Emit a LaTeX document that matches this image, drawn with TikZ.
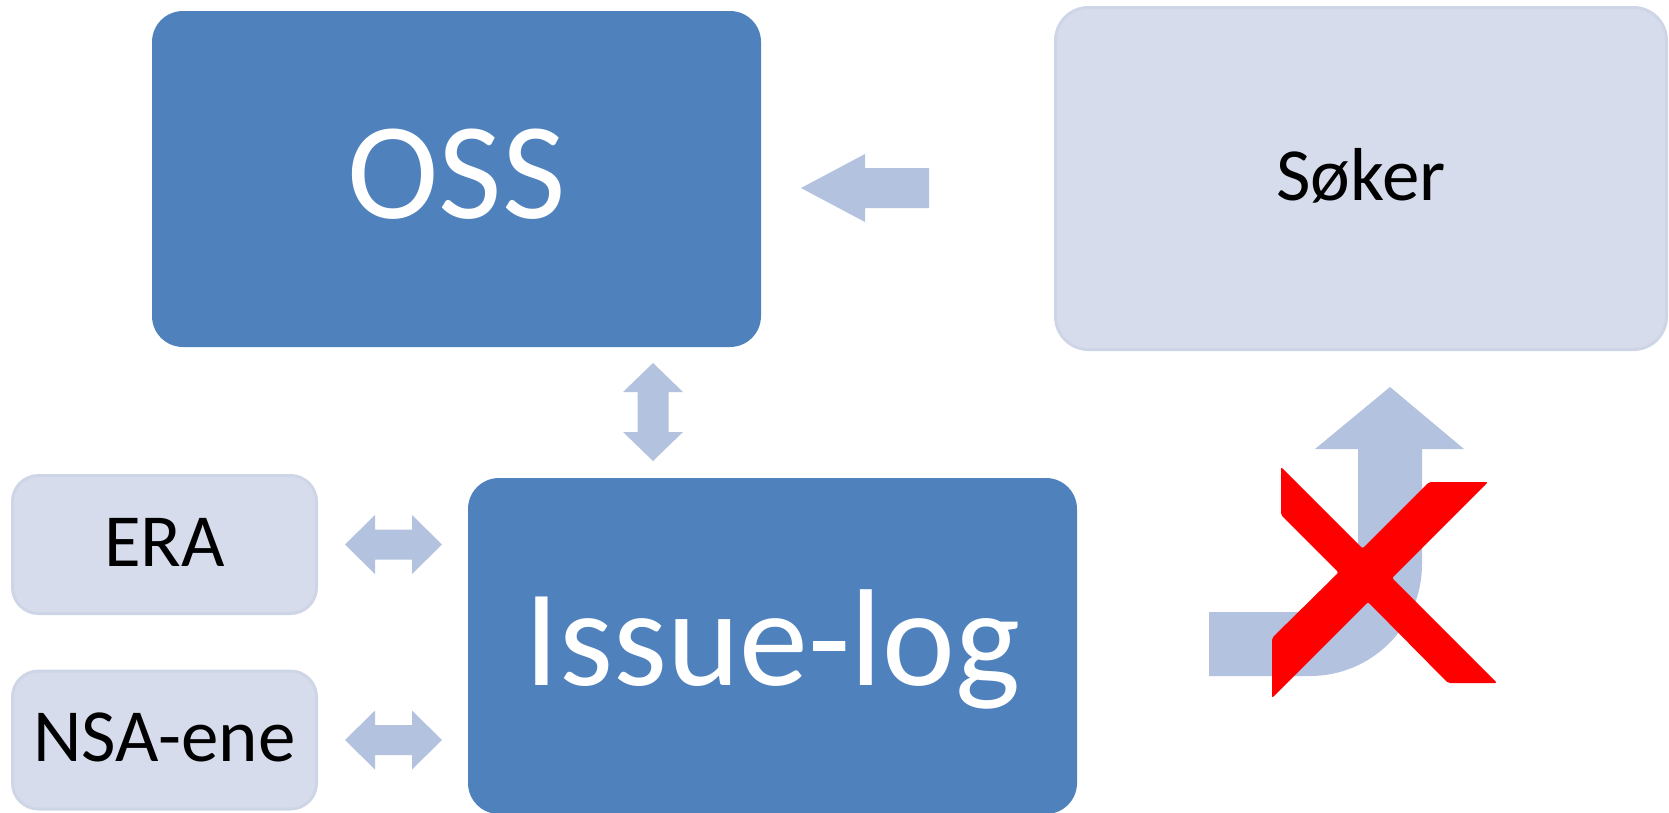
\documentclass[tikz,border=0pt]{standalone}
\usepackage{fontspec}
\setmainfont{Carlito}
\usepackage{tikz}
\usetikzlibrary{calc}

\definecolor{ossblue}{RGB}{79,129,189}
\definecolor{paleblue}{RGB}{214,220,235}
\definecolor{paleedge}{RGB}{206,213,231}
\definecolor{arrowblue}{RGB}{179,194,222}

\begin{document}
\begin{tikzpicture}[x=1pt, y=-1pt,
	mainbox/.style={fill=ossblue, rounded corners=31pt, minimum width=609pt, minimum height=336pt,
		inner sep=0pt, text=white, font=\fontsize{138}{140}\selectfont, text height=89pt, text depth=10pt},
	sidebox/.style={fill=paleblue, draw=paleedge, line width=3pt, inner sep=0pt,
		font=\fontsize{75}{80}\selectfont, text height=48pt, text depth=5pt}]
	\useasboundingbox (0,0) rectangle (1669,812);

	\node[mainbox] (oss) at (456.5,179) {OSS};
	\node[mainbox] (issuelog) at (772.5,646) {Issue-log};
	\node[sidebox, rounded corners=33pt, minimum width=611pt, minimum height=342pt] (soker) at (1361,178.5) {Søker};
	\node[sidebox, rounded corners=26pt, minimum width=304pt, minimum height=138pt] (era) at (164.5,544.5) {ERA};
	\node[sidebox, rounded corners=26pt, minimum width=304pt, minimum height=138pt] (nsa) at (164.5,740) {NSA-ene};

	% Søker -> OSS
	\fill[arrowblue] (801,188) -- (865,154) -- (865,168) -- (929,168) -- (929,208) -- (865,208) -- (865,222) -- cycle;

	% OSS <-> Issue-log
	\fill[arrowblue] (653,363) -- (683,392) -- (668.5,392) -- (668.5,432) -- (683,432) -- (653,461)
		-- (623,432) -- (637.5,432) -- (637.5,392) -- (623,392) -- cycle;

	% ERA, NSA-ene <-> Issue-log
	\foreach \n in {era,nsa}
		\fill[arrowblue, shift={(\n.east)}] (27,0) -- (57,-29.5) -- (57,-15) -- (94,-15) -- (94,-29.5) -- (124,0)
			-- (94,29.5) -- (94,15) -- (57,15) -- (57,29.5) -- cycle;

	% Issue-log -> Søker, blocked
	\fill[arrowblue] (1209,612) -- (1310,612) .. controls (1336.5,612) and (1358,590.5) .. (1358,564)
		-- (1358,449) -- (1315,449) -- (1390,387) -- (1464,449) -- (1422,449) -- (1422,564)
		.. controls (1422,625.9) and (1371.9,676) .. (1310,676) -- (1209,676) -- cycle;

	\fill[red, rounded corners=2pt] (1281,467) -- (1362.5,548.5) -- (1429,482) -- (1488,482) -- (1392,578)
		-- (1497,683) -- (1448,683) -- (1368,602) -- (1272,698) -- (1272,638) -- (1338.5,572.5) -- (1281,515) -- cycle;

\end{tikzpicture}
\end{document}
